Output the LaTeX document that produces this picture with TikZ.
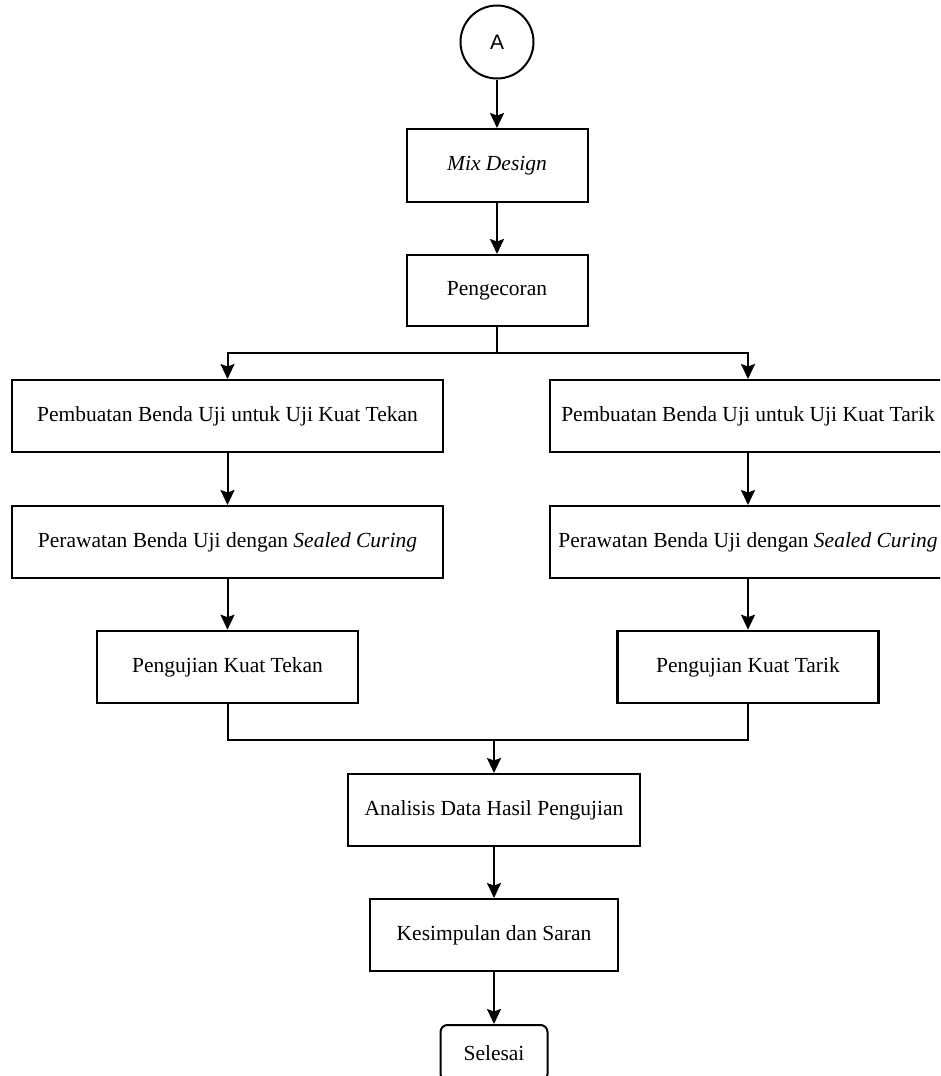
\documentclass[tikz,border=0pt]{standalone}
\usepackage{fontspec}
\setmainfont{Liberation Serif}
\newfontfamily\labelfont{Liberation Sans}
\usetikzlibrary{arrows.meta, positioning}
\tikzset{
    box/.style={rectangle, draw, line width=2pt, minimum height=72pt, text centered, inner sep=0pt, font=\fontsize{21.5}{25}\selectfont},
    testbox/.style={box, line width=2.6pt},
    terminal/.style={rectangle, rounded corners=7pt, draw, line width=2pt, minimum width=107pt, minimum height=56pt, text centered, inner sep=0pt, font=\fontsize{21.5}{25}\selectfont},
    connector/.style={circle, draw, line width=2pt, minimum size=73pt, inner sep=0pt, font=\labelfont\fontsize{21}{25}\selectfont},
    arrow/.style={-{Stealth[length=15pt, width=14pt, inset=2.5pt]}, line width=2pt},
    flow/.style={line width=2pt}
}

\begin{document}
\begin{tikzpicture}[x=1pt, y=-1pt]
    \useasboundingbox (0,0) rectangle (940,1076);
    \clip (0,0) rectangle (940,1076);

    % Start
    \node[connector] (start) at (497,42) {A};
    \node[box, minimum width=181pt, minimum height=73pt] (mix) at (497,165.5) {\textit{Mix Design}};
    \node[box, minimum width=181pt, minimum height=71pt] (cast) at (497,290.5) {Pengecoran};

    % Left branch
    \node[box, minimum width=431pt] (makeTekan) at (227.5,416) {Pembuatan Benda Uji untuk Uji Kuat Tekan};
    \node[box, minimum width=431pt] (cureTekan) at (227.5,542) {Perawatan Benda Uji dengan \textit{Sealed Curing}};
    \node[testbox, minimum width=261pt] (testTekan) at (227.5,667) {Pengujian Kuat Tekan};

    % Right branch
    \node[box, minimum width=396pt] (makeTarik) at (748,416) {Pembuatan Benda Uji untuk Uji Kuat Tarik};
    \node[box, minimum width=396pt] (cureTarik) at (748,542) {Perawatan Benda Uji dengan \textit{Sealed Curing}};
    \node[testbox, minimum width=261pt] (testTarik) at (748,667) {Pengujian Kuat Tarik};

    % Final steps
    \node[box, minimum width=292pt] (analysis) at (494,810) {Analisis Data Hasil Pengujian};
    \node[box, minimum width=248pt] (conclusion) at (494,935) {Kesimpulan dan Saran};
    \node[terminal] (finish) at (494,1053) {Selesai};

    \coordinate (split) at (497,353);
    \coordinate (join) at (494,740);

    % Connections
    \draw[arrow] (start) -- (mix);
    \draw[arrow] (mix) -- (cast);
    \draw[flow] (cast) -- (split);
    \draw[arrow] (split) -| (makeTekan);
    \draw[arrow] (split) -| (makeTarik);
    \draw[arrow] (makeTekan) -- (cureTekan);
    \draw[arrow] (cureTekan) -- (testTekan);
    \draw[arrow] (makeTarik) -- (cureTarik);
    \draw[arrow] (cureTarik) -- (testTarik);
    \draw[flow] (testTekan) |- (join);
    \draw[flow] (testTarik) |- (join);
    \draw[arrow] (join) -- (analysis);
    \draw[arrow] (analysis) -- (conclusion);
    \draw[arrow] (conclusion) -- (finish);
\end{tikzpicture}
\end{document}
